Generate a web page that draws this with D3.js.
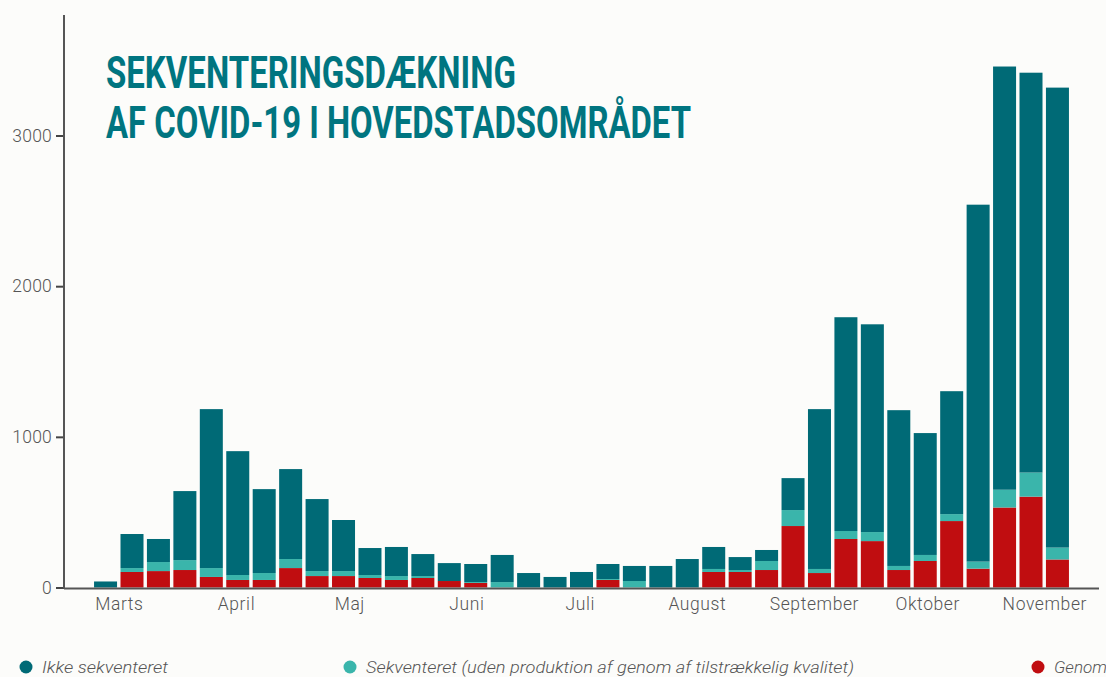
<!DOCTYPE html>
<html><head><meta charset="utf-8">
<script src="https://cdn.jsdelivr.net/npm/d3@7"></script>
<style>
html,body{margin:0;padding:0;background:#fcfcfa;}
svg{display:block;}
</style></head>
<body>
<script>
// ---- Data ----
const weeks = [9,10,11,12,13,14,15,16,17,18,19,20,21,22,23,24,25,26,27,28,29,30,31,32,33,34,35,36,37,38,39,40,41,42,43,44,45];
const genom = [0,103,109,116,70,50,50,129,76,76,63,50,63,43,30,0,0,0,0,50,0,0,0,103,103,116,408,96,322,308,116,176,441,125,531,603,186];
const sekventeretUden = [0,26,60,66,59,33,46,60,33,33,20,26,13,0,6,36,0,0,0,6,43,0,0,20,13,60,106,27,53,60,27,40,46,47,118,160,79];
const ikkeSekventeret = [40,226,153,458,1055,822,557,597,478,339,179,193,146,119,120,180,96,70,103,100,100,143,189,146,86,73,212,1061,1419,1379,1034,809,816,2369,2809,2654,3053];
const yTicks = [0,1000,2000,3000];
const monthLabels = ["Marts","April","Maj","Juni","Juli","August","September","Oktober","November"];
const titleLines = ["SEKVENTERINGSDÆKNING","AF COVID-19 I HOVEDSTADSOMRÅDET"];
const seriesNames = ["Ikke sekventeret","Sekventeret (uden produktion af genom af tilstrækkelig kvalitet)","Genom"];

// ---- Setup ----
const W = 1106, H = 677;
const colors = {genom:"#c00d10", uden:"#3ab5ab", ikke:"#006a76"};
const svg = d3.select("body").append("svg").attr("width",W).attr("height",H);
svg.append("rect").attr("width",W).attr("height",H).attr("fill","#fcfcfa");

const year = 2020;
function isoWeekThursday(w){
  const mon1 = Date.UTC(2019,11,30); // Monday of ISO week 1, 2020
  return new Date(mon1 + ((w-1)*7 + 3)*864e5);
}
const rows = weeks.map((w,i)=>({week:w, date:isoWeekThursday(w), genom:genom[i], uden:sekventeretUden[i], ikke:ikkeSekventeret[i]}));

const x = d3.scaleUtc().domain([new Date(Date.UTC(2020,1,16)), new Date(Date.UTC(2020,10,16))]).range([64,1099]);
const y = d3.scaleLinear().domain([0,3800]).range([587.5,15]);
const step = x(new Date(Date.UTC(2020,0,8))) - x(new Date(Date.UTC(2020,0,1)));
const bw = step*0.87;

const stack = d3.stack().keys(["genom","uden","ikke"]);
const layers = stack(rows);
const colorOf = {genom:colors.genom, uden:colors.uden, ikke:colors.ikke};

svg.append("g").selectAll("g").data(layers).join("g")
  .attr("fill",d=>colorOf[d.key])
  .selectAll("rect").data(d=>d).join("rect")
  .attr("x",d=>x(d.data.date)-bw/2)
  .attr("width",bw)
  .attr("y",d=>y(d[1]))
  .attr("height",d=>Math.max(0,y(d[0])-y(d[1])));

const labelFont = "Roboto, sans-serif";

// Y axis
const yAxis = d3.axisLeft(y).tickValues(yTicks).tickFormat(d3.format("d")).tickSize(8).tickPadding(4);
const gy = svg.append("g").attr("transform","translate(64,0)").call(yAxis);
gy.select(".domain").remove();
gy.selectAll(".tick line").attr("stroke","#444").attr("stroke-width",2);
gy.selectAll(".tick text").attr("fill","#555").attr("font-family",labelFont).attr("font-weight",300).attr("font-size",17.5).attr("letter-spacing",0.2);
svg.append("line").attr("x1",64).attr("x2",64).attr("y1",y.range()[1]).attr("y2",588.5).attr("stroke","#555").attr("stroke-width",2);

// X axis
const monthDates = monthLabels.map((m,i)=>new Date(Date.UTC(year,2+i,1)));
const xAxis = d3.axisBottom(x).tickValues(monthDates).tickFormat((d,i)=>monthLabels[i]).tickSize(0).tickPadding(10);
const gx = svg.append("g").attr("transform","translate(2,588)").call(xAxis);
gx.select(".domain").remove();
gx.selectAll(".tick text").attr("fill","#555").attr("font-family",labelFont).attr("font-weight",300).attr("font-size",17.5).attr("letter-spacing",0.6);
svg.append("line").attr("x1",x.range()[0]).attr("x2",x.range()[1]).attr("y1",588.5).attr("y2",588.5).attr("stroke","#555").attr("stroke-width",2);

// Title
const titleG = svg.append("g");
const titleLens = [410,585];
titleLines.forEach((t,i)=>{
  titleG.append("text").attr("x",106).attr("y",88+i*50)
    .attr("font-family","Roboto, sans-serif").attr("font-weight",700).attr("font-size",45)
    .attr("fill","#007580").attr("textLength",titleLens[i]).attr("lengthAdjust","spacingAndGlyphs")
    .text(t);
});

// Legend
const legX = [26,350,1038];
const legLens = [126,488,53];
const legColors = [colors.ikke,colors.uden,colors.genom];
const lg = svg.append("g");
seriesNames.forEach((n,i)=>{
  lg.append("circle").attr("cx",legX[i]).attr("cy",667).attr("r",6.5).attr("fill",legColors[i]);
  lg.append("text").attr("x",legX[i]+16).attr("y",673).attr("font-family",labelFont)
    .attr("font-style","italic").attr("font-weight",300).attr("font-size",17)
    .attr("textLength",legLens[i]).attr("lengthAdjust","spacingAndGlyphs")
    .attr("fill","#555").text(n);
});
</script>
</body></html>
